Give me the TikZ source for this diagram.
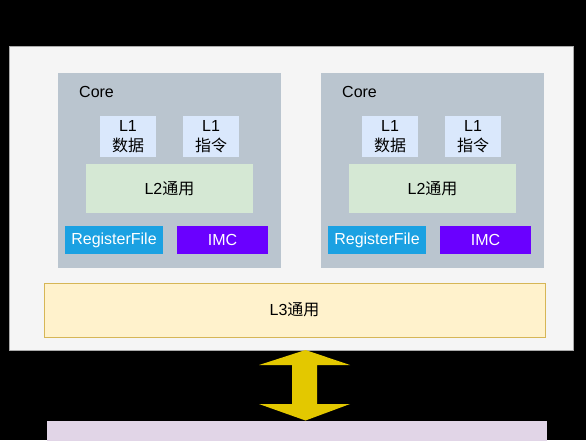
\documentclass[tikz,border=0pt]{standalone}
\usepackage{fontspec}
\setmainfont{Liberation Sans}
\newfontfamily\cjk{Noto Sans CJK SC}
\definecolor{outerfill}{HTML}{F5F5F5}
\definecolor{outerdraw}{HTML}{AAAAAA}
\definecolor{corefill}{HTML}{BAC5CF}
\definecolor{lonefill}{HTML}{DAE8FC}
\definecolor{ltwofill}{HTML}{D5E8D4}
\definecolor{regfill}{HTML}{1BA1E2}
\definecolor{imcfill}{HTML}{6A00FF}
\definecolor{lthreefill}{HTML}{FFF2CC}
\definecolor{lthreedraw}{HTML}{D6B656}
\definecolor{memfill}{HTML}{E1D5E7}
\definecolor{arrowfill}{HTML}{E3C800}
\tikzset{
  box/.style={inner sep=0pt, outer sep=0pt, anchor=north west, font=\fontsize{16}{18}\selectfont},
  lone/.style={box, fill=lonefill, minimum width=56pt, minimum height=41pt, align=center, font=\fontsize{16}{20.5}\selectfont},
  ltwo/.style={box, fill=ltwofill, minimum width=167pt, minimum height=49pt},
  reg/.style={box, fill=regfill, text=white, minimum width=98pt, minimum height=28pt},
  imc/.style={box, fill=imcfill, text=white, minimum width=91pt, minimum height=28pt},
  core/.style={box, fill=corefill, minimum width=223pt, minimum height=195pt},
  lbl/.style={inner sep=0pt, anchor=west, font=\fontsize{16}{18}\selectfont},
}
\begin{document}
\begin{tikzpicture}[x=1pt,y=-1pt]
\useasboundingbox (0,0) rectangle (586,440);
\clip (0,0) rectangle (586,440);
\fill[black] (0,0) rectangle (586,440);
% outer chip
\node[box, fill=outerfill, draw=outerdraw, line width=0.6pt, minimum width=564pt, minimum height=304pt] (chip) at (9,46) {};
% left core
\node[core] (coreA) at (58,73) {};
\node[lbl] (coreAt) at (79,92) {Core};
\node[lone] (loneA) at (100,116) {L1\\{\cjk 数据}};
\node[lone] (lonebA) at (183,116) {L1\\{\cjk 指令}};
\node[ltwo] (ltwoA) at (86,164) {L2{\cjk 通用}};
\node[reg] (regA) at (65,226) {RegisterFile};
\node[imc] (imcA) at (177,226) {IMC};
% right core
\node[core] (coreB) at (321,73) {};
\node[lbl] (coreBt) at (342,92) {Core};
\node[lone] (loneB) at (362,116) {L1\\{\cjk 数据}};
\node[lone] (lonebB) at (445,116) {L1\\{\cjk 指令}};
\node[ltwo] (ltwoB) at (349,164) {L2{\cjk 通用}};
\node[reg] (regB) at (328,226) {RegisterFile};
\node[imc] (imcB) at (440,226) {IMC};
% L3
\node[box, fill=lthreefill, draw=lthreedraw, line width=0.8pt, minimum width=501pt, minimum height=54pt] (lthree) at (44,283) {L3{\cjk 通用}};
% memory (bottom)
\node[box, fill=memfill, minimum width=500pt, minimum height=30pt] (mem) at (47,421) {};
% double block arrow
\coordinate (atop) at (305.5,350);
\coordinate (abot) at (305.5,420.5);
\fill[arrowfill] (atop) -- (350,365) -- (317,365) -- (317,404) -- (350,404) -- (abot)
  -- (259,404) -- (292,404) -- (292,365) -- (259,365) -- cycle;
\end{tikzpicture}
\end{document}
